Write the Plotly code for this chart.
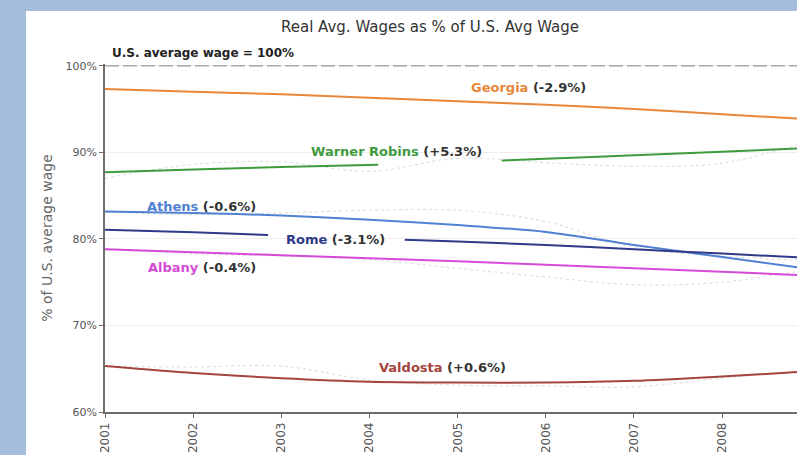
import plotly.graph_objects as go

# ---------------- data ----------------
years = [2001, 2002, 2003, 2004, 2005, 2006, 2007, 2008, 2009]
us_avg = [100, 100, 100, 100, 100, 100, 100, 100, 100]

georgia = [97.3, 97.0, 96.7, 96.3, 95.9, 95.5, 95.0, 94.4, 93.8]
athens = [83.15, 83.0, 82.7, 82.2, 81.6, 80.8, 79.3, 77.9, 76.5]
albany = [78.8, 78.45, 78.1, 77.75, 77.4, 77.0, 76.6, 76.2, 75.75]
valdosta = [65.3, 64.5, 63.9, 63.5, 63.4, 63.4, 63.6, 64.1, 64.7]

wr_years_a = [2001, 2002, 2003, 2004.1]
wr_vals_a = [87.7, 88.0, 88.3, 88.55]
wr_years_b = [2005.5, 2006, 2007, 2008, 2009]
wr_vals_b = [89.05, 89.25, 89.65, 90.05, 90.5]

rome_years_a = [2001, 2002, 2002.85]
rome_vals_a = [81.05, 80.75, 80.45]
rome_years_b = [2004.4, 2005, 2006, 2007, 2008, 2009]
rome_vals_b = [79.9, 79.7, 79.3, 78.8, 78.3, 77.8]

# faint raw (unsmoothed) series
wr_raw = [87.0, 88.6, 88.9, 87.8, 89.3, 88.8, 88.4, 88.75, 91.3]
athens_raw = [83.1, 82.8, 83.0, 83.3, 83.3, 82.0, 79.0, 78.0, 77.5]
albany_raw = [78.9, 78.3, 78.0, 77.6, 76.6, 75.6, 74.7, 75.0, 76.5]
valdosta_raw = [65.3, 65.2, 65.3, 63.7, 63.1, 63.0, 62.9, 63.9, 64.8]

labels = {
    "Georgia": "-2.9%",
    "Warner Robins": "+5.3%",
    "Athens": "-0.6%",
    "Rome": "-3.1%",
    "Albany": "-0.4%",
    "Valdosta": "+0.6%",
}

# ---------------- styles ----------------
C_GEORGIA = "#E8873A"
C_WR = "#3E9B3E"
C_ATHENS = "#4F80D2"
C_ROME = "#2F3A88"
C_ALBANY = "#D64AD6"
C_VALDOSTA = "#A3453C"
C_RAW = "#E0E0E0"
FONT = "DejaVu Sans"

fig = go.Figure()

for raw in [wr_raw, athens_raw, albany_raw, valdosta_raw]:
    fig.add_trace(go.Scatter(x=years, y=raw, mode="lines",
                             line=dict(color=C_RAW, width=1.2, dash="dot", shape="spline"),
                             hoverinfo="skip"))

fig.add_trace(go.Scatter(x=years, y=us_avg, mode="lines",
                         line=dict(color="#A8A8A8", width=1.5, dash="14px,4px"),
                         cliponaxis=False))

def add_line(x, y, color):
    fig.add_trace(go.Scatter(x=x, y=y, mode="lines",
                             line=dict(color=color, width=2, shape="spline", smoothing=0.8)))

add_line(years, georgia, C_GEORGIA)
add_line(wr_years_a, wr_vals_a, C_WR)
add_line(wr_years_b, wr_vals_b, C_WR)
add_line(years, athens, C_ATHENS)
add_line(rome_years_a, rome_vals_a, C_ROME)
add_line(rome_years_b, rome_vals_b, C_ROME)
add_line(years, albany, C_ALBANY)
add_line(years, valdosta, C_VALDOSTA)

def lab(name, color, x, y):
    fig.add_annotation(
        x=x, y=y, xref="x", yref="y", showarrow=False,
        text=f"<b><span style='color:{color}'>{name}</span> ({labels[name]})</b>",
        font=dict(family=FONT, size=13, color="#333333"),
    )

lab("Georgia", C_GEORGIA, 2005.80, 97.46)
lab("Warner Robins", C_WR, 2004.31, 90.06)
lab("Athens", C_ATHENS, 2002.09, 83.70)
lab("Rome", C_ROME, 2003.62, 79.88)
lab("Albany", C_ALBANY, 2002.10, 76.65)
lab("Valdosta", C_VALDOSTA, 2004.83, 65.09)

fig.add_annotation(
    x=(110 - 105) / 692, y=(412 - 53) / 348, xref="paper", yref="paper",
    xanchor="left", yanchor="middle", showarrow=False,
    text="<b>U.S. average wage = 100%</b>",
    font=dict(family=FONT, size=12, color="#222222"),
)

# white panel over the blue-grey background
fig.add_shape(type="rect", xref="paper", yref="paper",
              x0=(26 - 105) / 692, x1=1.0, y0=-0.13, y1=(444 - 43) / 348,
              fillcolor="white", line=dict(width=0), layer="below")

fig.update_layout(
    width=797, height=455,
    margin=dict(l=105, r=0, t=64, b=43),
    paper_bgcolor="#A4BDDB",
    plot_bgcolor="white",
    showlegend=False,
    title=dict(text="Real Avg. Wages as % of U.S. Avg Wage",
               x=430 / 797, xanchor="center", y=1 - 27 / 455, yanchor="middle",
               font=dict(family=FONT, size=15, color="#333333")),
    font=dict(family=FONT),
)

fig.update_xaxes(
    range=[2001, 2008.85], tickmode="array", tickvals=years[:-1],
    ticktext=[str(y) for y in years[:-1]], tickangle=-90,
    showgrid=False, zeroline=False,
    showline=True, linecolor="#6E6E6E", linewidth=1.5,
    ticks="outside", ticklen=4, tickcolor="#6E6E6E",
    tickfont=dict(family=FONT, size=12, color="#555555"),
)
fig.update_yaxes(
    range=[60, 100.2], tickmode="array", tickvals=[60, 70, 80, 90, 100],
    ticktext=["60%", "70%", "80%", "90%", "100%"],
    showgrid=True, gridcolor="#EEEEEE", gridwidth=1, zeroline=False,
    showline=True, linecolor="#6E6E6E", linewidth=1.5,
    ticks="outside", ticklen=4, tickcolor="#6E6E6E",
    tickfont=dict(family=FONT, size=11, color="#555555"),
    title=dict(text="% of U.S. average wage", standoff=10,
               font=dict(family=FONT, size=14, color="#666666")),
)

fig.write_html("out.html",
               config={"displayModeBar": False},
               post_script="document.body.style.margin='0px';"
                           "document.body.style.overflow='hidden';")
